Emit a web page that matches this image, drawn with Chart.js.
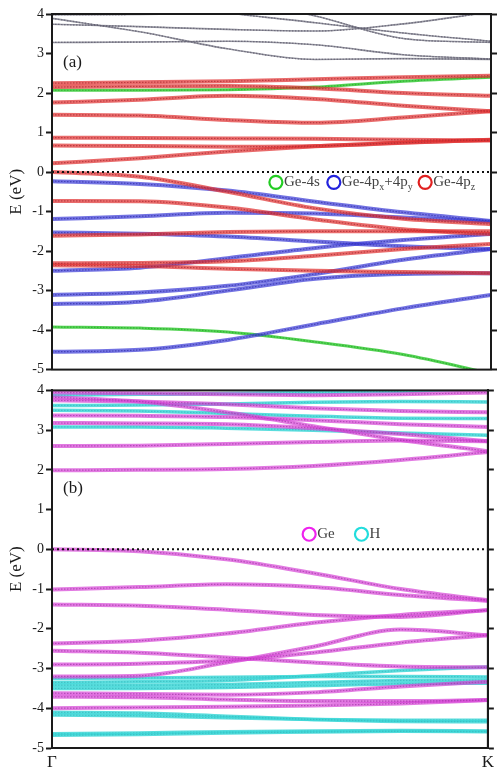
<!DOCTYPE html>
<html>
<head>
<meta charset="utf-8">
<script src="https://cdn.jsdelivr.net/npm/chart.js@4.4.0/dist/chart.umd.min.js"></script>
<style>
    html, body { margin: 0; padding: 0; background: #fff; }
    #wrap { position: relative; width: 498px; height: 771px; }
    canvas { position: absolute; left: 0; }
    #panel-a { top: 0; }
    #panel-b { top: 380px; }
</style>
</head>
<body>
<div id="wrap">
    <canvas id="panel-a" width="498" height="380"></canvas>
    <canvas id="panel-b" width="498" height="391"></canvas>
</div>
<script>
(function () {
    "use strict";

    // k-path sample points (Gamma = 0, K = 1) and axis labels
    var kPath = [0, 0.2, 0.4, 0.6, 0.8, 1];
    var kLabels = ["Γ", "K"];
    var yTicks = [4, 3, 2, 1, 0, -1, -2, -3, -4, -5];

    // (a) band energies (eV) at each kPath point
    var aGe4s = [
        [2.07, 2.07, 2.08, 2.15, 2.30, 2.40],
        [-3.92, -3.95, -4.05, -4.30, -4.62, -5.10]
    ];
    var aGe4pxy = [
        [-0.23, -0.30, -0.47, -0.75, -1.02, -1.24],
        [-1.19, -1.12, -1.03, -1.05, -1.15, -1.26],
        [-1.53, -1.56, -1.63, -1.76, -1.88, -1.95],
        [-2.50, -2.42, -2.18, -1.92, -1.72, -1.57],
        [-3.11, -3.05, -2.88, -2.58, -2.22, -1.95],
        [-3.34, -3.28, -3.00, -2.70, -2.58, -2.56],
        [-4.55, -4.50, -4.25, -3.85, -3.45, -3.11]
    ];
    var aGe4pz = [
        [2.25, 2.27, 2.30, 2.35, 2.40, 2.44],
        [2.15, 2.17, 2.18, 2.12, 2.00, 1.93],
        [1.76, 1.83, 1.93, 1.85, 1.68, 1.54],
        [1.45, 1.43, 1.32, 1.25, 1.38, 1.54],
        [0.87, 0.86, 0.85, 0.84, 0.82, 0.80],
        [0.67, 0.66, 0.64, 0.66, 0.74, 0.82],
        [0.22, 0.35, 0.52, 0.65, 0.75, 0.81],
        [0.00, -0.12, -0.50, -0.92, -1.18, -1.32],
        [-0.73, -0.74, -0.90, -1.20, -1.45, -1.57],
        [-1.61, -1.58, -1.52, -1.50, -1.50, -1.50],
        [-2.31, -2.30, -2.26, -2.12, -1.95, -1.82],
        [-2.36, -2.38, -2.45, -2.50, -2.53, -2.56]
    ];
    var aWeak = [
        [3.98, 3.99, 4.03, 4.12, 4.25, 4.35],
        [3.74, 3.68, 3.61, 3.57, 3.75, 4.05],
        [3.89, 3.55, 3.12, 2.85, 2.87, 2.85],
        [3.28, 3.29, 3.31, 3.22, 2.97, 2.86],
        [4.80, 4.35, 4.03, 3.78, 3.52, 3.31],
        [5.20, 4.80, 4.40, 3.95, 3.38, 3.28],
        [4.40, 4.35, 4.25, 4.12, 4.02, 3.99]
    ];

    // (b) band energies (eV)
    var bGe = [
        [1.99, 2.00, 2.02, 2.10, 2.25, 2.45],
        [2.60, 2.61, 2.65, 2.70, 2.74, 2.72],
        [3.18, 3.17, 3.15, 3.05, 2.90, 2.72],
        [3.83, 3.72, 3.45, 3.10, 2.75, 2.47],
        [3.75, 3.72, 3.65, 3.55, 3.48, 3.45],
        [3.37, 3.36, 3.33, 3.25, 3.15, 3.08],
        [3.95, 3.93, 3.90, 3.88, 3.90, 3.95],
        [0.00, -0.05, -0.25, -0.60, -1.00, -1.28],
        [-1.01, -0.95, -0.88, -0.95, -1.15, -1.30],
        [-1.39, -1.42, -1.52, -1.65, -1.70, -1.53],
        [-2.37, -2.30, -2.12, -1.85, -1.65, -1.53],
        [-2.55, -2.60, -2.72, -2.85, -2.95, -2.97],
        [-2.90, -2.88, -2.80, -2.60, -2.35, -2.16],
        [-3.20, -3.18, -2.85, -2.45, -2.02, -2.16],
        [-3.62, -3.64, -3.66, -3.60, -3.45, -3.33],
        [-3.71, -3.72, -3.78, -3.82, -3.82, -3.79],
        [-4.00, -3.98, -3.96, -3.93, -3.88, -3.79]
    ];
    var bH = [
        [3.88, 3.90, 3.92, 3.95, 3.98, 4.05],
        [3.62, 3.63, 3.66, 3.70, 3.72, 3.71],
        [3.50, 3.48, 3.42, 3.35, 3.30, 3.29],
        [3.08, 3.08, 3.05, 3.00, 2.93, 2.87],
        [-3.25, -3.24, -3.22, -3.20, -3.20, -3.21],
        [-3.35, -3.33, -3.30, -3.18, -3.05, -2.96],
        [-3.42, -3.42, -3.40, -3.35, -3.30, -3.29],
        [-3.50, -3.50, -3.48, -3.43, -3.38, -3.37],
        [-4.10, -4.12, -4.20, -4.28, -4.33, -4.34],
        [-4.17, -4.19, -4.24, -4.28, -4.30, -4.30],
        [-4.68, -4.66, -4.62, -4.60, -4.58, -4.59],
        [-4.64, -4.62, -4.59, -4.57, -4.56, -4.57]
    ];

    // legend texts: [text, isSubscript]
    var aLegend = [
        [["Ge-4s", 0]],
        [["Ge-4p", 0], ["x", 1], ["+4p", 0], ["y", 1]],
        [["Ge-4p", 0], ["z", 1]]
    ];
    var bLegend = [
        [["Ge", 0]],
        [["H", 0]]
    ];

    var SERIF = "'Liberation Serif', 'Times New Roman', serif";
    var INK = "#1a1a1a";

    // Build line datasets: coloured halo + dark dotted core
    function bandSets(bands, color, width) {
        var out = [];
        bands.forEach(function (e) {
            var pts = kPath.map(function (k, i) { return { x: k, y: e[i] }; });
            out.push({
                data: pts, borderColor: color, borderWidth: width,
                pointRadius: 0, cubicInterpolationMode: "monotone"
            });
            out.push({
                data: pts, borderColor: "rgba(30,20,45,0.7)", borderWidth: 1.2,
                borderDash: [1.5, 1.5], pointRadius: 0, cubicInterpolationMode: "monotone"
            });
        });
        return out;
    }

    function fermiLine() {
        return {
            data: [{ x: 0, y: 0 }, { x: 1, y: 0 }],
            borderColor: "#111", borderWidth: 2, borderDash: [2, 3], pointRadius: 0
        };
    }

    function fixTicks(scale) {
        scale.ticks = yTicks.map(function (v) { return { value: v }; });
    }

    function scalesFor(showX) {
        return {
            x: {
                type: "linear", min: 0, max: 1, display: showX,
                afterBuildTicks: function (s) { s.ticks = [{ value: 0 }, { value: 1 }]; },
                ticks: {
                    callback: function (v) { return v === 0 ? kLabels[0] : kLabels[1]; },
                    font: { family: SERIF, size: 17 }, color: INK,
                    padding: 4, maxRotation: 0, autoSkip: false
                },
                grid: { display: false, drawTicks: false },
                border: { display: true, width: 2, color: INK },
                afterFit: function (s) { s.height = showX ? 23 : 0; }
            },
            y: {
                min: -5, max: 4,
                afterBuildTicks: fixTicks,
                ticks: { font: { family: SERIF, size: 14 }, color: INK, padding: 2 },
                grid: { drawOnChartArea: false, tickLength: 6, tickWidth: 2, color: INK },
                border: { width: 2, color: INK },
                title: {
                    display: true, text: "E (eV)", color: INK,
                    font: { family: SERIF, size: 17 }, padding: { top: 6, bottom: 0 }
                },
                afterFit: function (s) { s.width = 52; }
            },
            y2: {
                position: "right", min: -5, max: 4,
                afterBuildTicks: fixTicks,
                ticks: { display: false },
                grid: { drawOnChartArea: false, tickLength: 6, tickWidth: 2, color: INK },
                border: { width: 2, color: INK },
                afterFit: function (s) { s.width = 7; }
            }
        };
    }

    // Frame, panel tag and in-plot legend
    function notesPlugin(tag, tagE, legendE, legendAt, legendColors, legendTexts) {
        return {
            id: "notes",
            afterDraw: function (chart) {
                var ctx = chart.ctx, a = chart.chartArea;
                var xs = chart.scales.x, ys = chart.scales.y;
                ctx.save();
                ctx.strokeStyle = INK;
                ctx.lineWidth = 2;
                ctx.strokeRect(a.left, a.top, a.right - a.left, a.bottom - a.top);

                ctx.fillStyle = INK;
                ctx.font = "17px " + SERIF;
                ctx.textBaseline = "middle";
                ctx.textAlign = "left";
                ctx.fillText(tag, a.left + 11, ys.getPixelForValue(tagE));

                var ly = ys.getPixelForValue(legendE);
                legendTexts.forEach(function (parts, i) {
                    var cx = xs.getPixelForValue(legendAt[i]);
                    ctx.beginPath();
                    ctx.arc(cx, ly, 6.5, 0, Math.PI * 2);
                    ctx.lineWidth = 2.2;
                    ctx.strokeStyle = legendColors[i];
                    ctx.stroke();
                    var tx = cx + 8;
                    parts.forEach(function (p) {
                        ctx.fillStyle = "#444";
                        if (p[1]) {
                            ctx.font = "10px " + SERIF;
                            ctx.fillText(p[0], tx, ly + 5);
                        } else {
                            ctx.font = "15px " + SERIF;
                            ctx.fillText(p[0], tx, ly);
                        }
                        tx += ctx.measureText(p[0]).width;
                    });
                });
                ctx.restore();
            }
        };
    }

    var RED = "rgba(225,50,50,0.72)";
    var BLUE = "rgba(60,60,215,0.72)";
    var GREEN = "rgba(40,200,40,0.8)";
    var GREY = "rgba(115,115,130,0.75)";
    var MAGENTA = "rgba(215,70,215,0.72)";
    var CYAN = "rgba(60,215,215,0.85)";

    var common = {
        responsive: false,
        animation: false,
        plugins: { legend: { display: false }, tooltip: { enabled: false } }
    };

    // Panel (a)
    new Chart(document.getElementById("panel-a").getContext("2d"), {
        type: "line",
        data: {
            datasets: [fermiLine()]
                .concat(bandSets(aWeak, GREY, 1.6))
                .concat(bandSets(aGe4pz, RED, 4))
                .concat(bandSets(aGe4pxy, BLUE, 4))
                .concat(bandSets(aGe4s, GREEN, 3))
        },
        options: Object.assign({}, common, {
            layout: { padding: { top: 14, bottom: 9, left: 0, right: 0 } },
            scales: scalesFor(false)
        }),
        plugins: [notesPlugin("(a)", 2.76, -0.26, [0.51, 0.642, 0.85],
            ["#22cc22", "#2222dd", "#e02020"], aLegend)]
    });

    // Panel (b)
    new Chart(document.getElementById("panel-b").getContext("2d"), {
        type: "line",
        data: {
            datasets: [fermiLine()]
                .concat(bandSets(bGe, MAGENTA, 4))
                .concat(bandSets(bH, CYAN, 3.5))
        },
        options: Object.assign({}, common, {
            layout: { padding: { top: 10, bottom: 0, left: 0, right: 0 } },
            scales: scalesFor(true)
        }),
        plugins: [notesPlugin("(b)", 1.54, 0.38, [0.59, 0.71],
            ["#ee22ee", "#22dddd"], bLegend)]
    });

})();
</script>
</body>
</html>
